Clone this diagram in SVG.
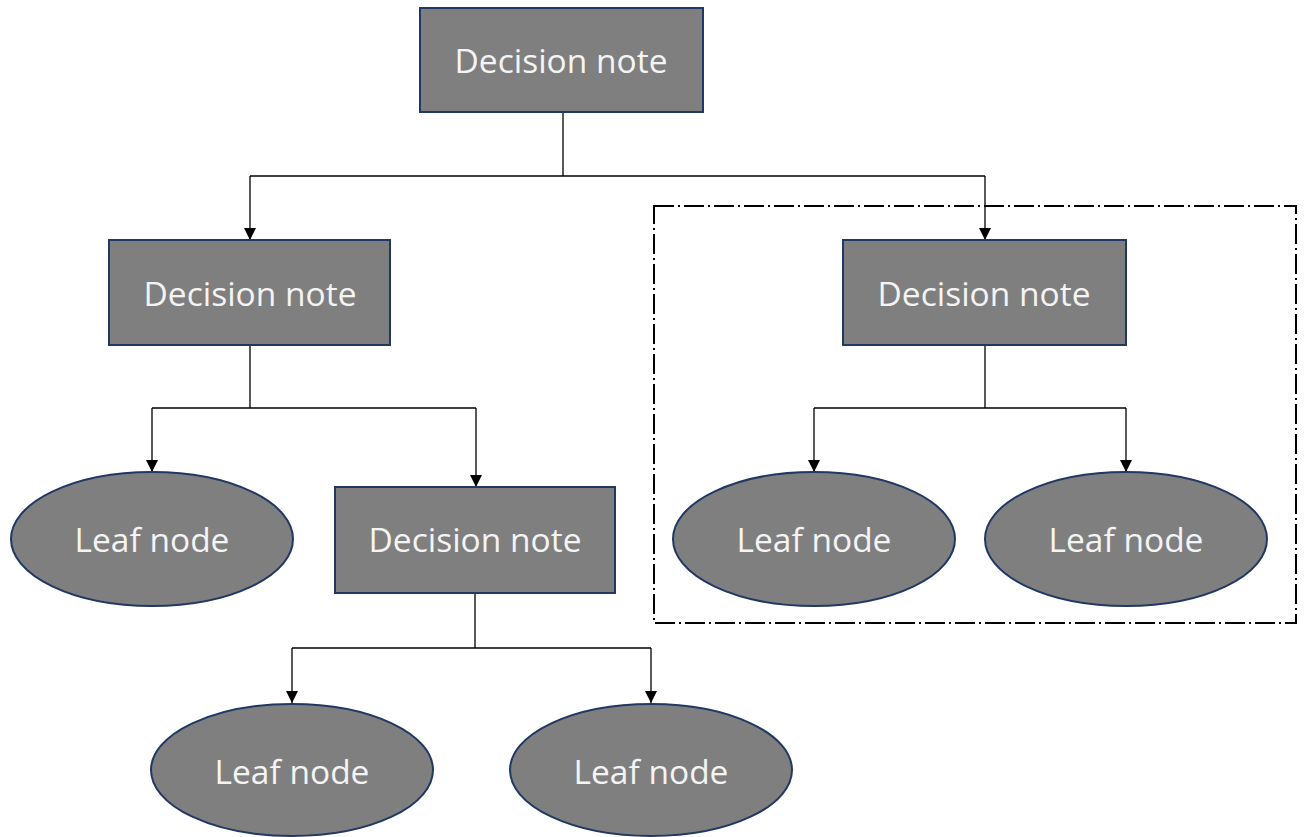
<svg xmlns="http://www.w3.org/2000/svg" width="1304" height="837" viewBox="0 0 1304 837">
  <style>
    .node { fill: #7f7f7f; stroke: #203864; stroke-width: 2; }
    .label { fill: #f4f4f4; font-family: "Open Sans", "Liberation Sans", sans-serif; font-size: 33.5px; text-anchor: middle; dominant-baseline: central; }
    .wire { fill: none; stroke: #000; stroke-width: 1.3; }
    .arrow { fill: none; stroke: #000; stroke-width: 1.3; marker-end: url(#tip); }
    .group { fill: none; stroke: #000; stroke-width: 2; stroke-dasharray: 20 4 2 4; }
  </style>
  <defs>
    <marker id="tip" viewBox="0 0 12 12" refX="12" refY="6" markerWidth="12" markerHeight="12" markerUnits="userSpaceOnUse" orient="auto">
      <path d="M0,0 L12,6 L0,12 z" fill="#000"/>
    </marker>
  </defs>
  <rect width="1304" height="837" fill="#fff"/>

  <!-- grouping frame around the right subtree -->
  <rect class="group" x="654" y="206" width="642" height="417"/>

  <g id="connectors">
    <path class="wire" d="M563,112 V176 M250,176 H985"/>
    <path class="arrow" d="M250,176 V240"/>
    <path class="arrow" d="M985,176 V240"/>

    <path class="wire" d="M250,345 V408 M152,408 H476"/>
    <path class="arrow" d="M152,408 V472"/>
    <path class="arrow" d="M476,408 V487"/>

    <path class="wire" d="M985,345 V408 M814,408 H1126"/>
    <path class="arrow" d="M814,408 V472"/>
    <path class="arrow" d="M1126,408 V472"/>

    <path class="wire" d="M475,593 V648 M292,648 H651"/>
    <path class="arrow" d="M292,648 V703"/>
    <path class="arrow" d="M651,648 V703"/>
  </g>

  <g id="root">
    <rect class="node" x="420" y="8" width="283" height="104"/>
    <text class="label" x="561" y="60">Decision note</text>
  </g>
  <g id="decision-left">
    <rect class="node" x="109" y="240" width="281" height="105"/>
    <text class="label" x="250" y="293">Decision note</text>
  </g>
  <g id="decision-right">
    <rect class="node" x="843" y="240" width="283" height="105"/>
    <text class="label" x="984" y="293">Decision note</text>
  </g>
  <g id="decision-middle">
    <rect class="node" x="335" y="487" width="280" height="106"/>
    <text class="label" x="475" y="539">Decision note</text>
  </g>

  <g id="leaf-1">
    <ellipse class="node" cx="152" cy="539" rx="141" ry="67"/>
    <text class="label" x="152" y="539">Leaf node</text>
  </g>
  <g id="leaf-2">
    <ellipse class="node" cx="814" cy="539" rx="141" ry="67"/>
    <text class="label" x="814" y="539">Leaf node</text>
  </g>
  <g id="leaf-3">
    <ellipse class="node" cx="1126" cy="539" rx="141" ry="67"/>
    <text class="label" x="1126" y="539">Leaf node</text>
  </g>
  <g id="leaf-4">
    <ellipse class="node" cx="292" cy="770" rx="141" ry="66"/>
    <text class="label" x="292" y="771">Leaf node</text>
  </g>
  <g id="leaf-5">
    <ellipse class="node" cx="651" cy="770" rx="141" ry="66"/>
    <text class="label" x="651" y="771">Leaf node</text>
  </g>
</svg>
